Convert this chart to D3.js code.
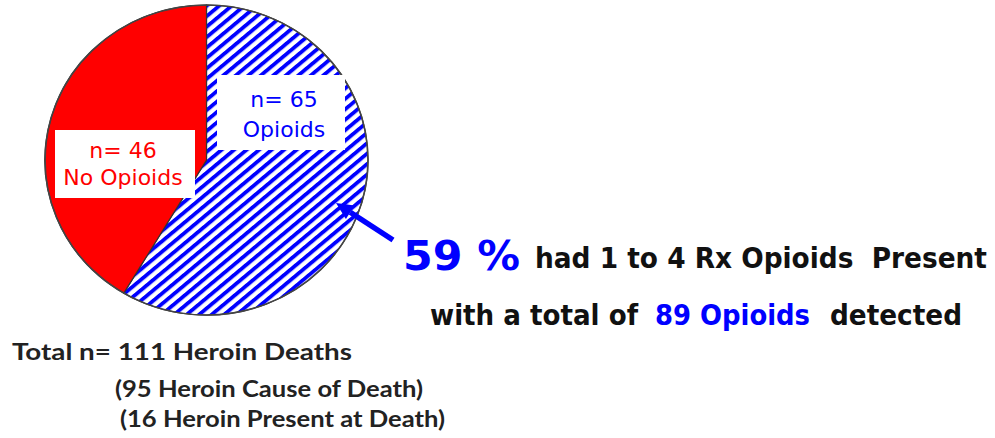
<!DOCTYPE html>
<html>
<head>
<meta charset="utf-8">
<script src="https://cdn.jsdelivr.net/npm/d3@7"></script>
<style>
  body { margin: 0; background: #fff; }
  svg { display: block; }
</style>
</head>
<body>
<svg id="chart"></svg>
<script>
// Data
const categories = ["Opioids", "No Opioids"];
const counts = [65, 46];
const sliceColors = ["#0000ff", "#ff0000"];
const totalLines = [
  "Total n= 111 Heroin Deaths",
  "(95 Heroin Cause of Death)",
  "(16 Heroin Present at Death)",
];
const noteLine1 = "had 1 to 4 Rx Opioids\u00a0 Present";
const noteLine2 = ["with a total of", "89 Opioids", "detected"];

const width = 995;
const height = 438;

const svg = d3.select("#chart").attr("width", width).attr("height", height);

// Hatch pattern for the opioid slice
const defs = svg.append("defs");
const hatch = defs
  .append("pattern")
  .attr("id", "hatch")
  .attr("patternUnits", "userSpaceOnUse")
  .attr("width", 10)
  .attr("height", 8.2)
  .attr("patternTransform", "rotate(-41)");
hatch.append("rect").attr("width", 10).attr("height", 8.2).attr("fill", "#fff");
hatch
  .append("rect")
  .attr("width", 10)
  .attr("height", 3.9)
  .attr("fill", sliceColors[0]);

// Pie
const cx = 206.5;
const cy = 160;
const radius = 161.5;
const yScale = 0.96;

const pie = d3.pie().sort(null).value((d) => d);
const arc = d3.arc().innerRadius(0).outerRadius(radius);
const arcs = pie(counts);

const pieG = svg
  .append("g")
  .attr("transform", `translate(${cx},${cy}) scale(1,${yScale})`);

pieG
  .selectAll("path.slice")
  .data(arcs)
  .enter()
  .append("path")
  .classed("slice", true)
  .attr("d", arc)
  .attr("fill", (_, i) => (i === 0 ? "url(#hatch)" : sliceColors[i]))
  .attr("stroke", "#333")
  .attr("stroke-width", 1.2);

// Outline
pieG
  .append("circle")
  .attr("r", radius)
  .attr("fill", "none")
  .attr("stroke", "#444")
  .attr("stroke-width", 1.6);

// Slice labels (white boxes)
const labelBoxes = [
  { x: 217, y: 75, w: 128, h: 75, tx: 284, lines: ["n= " + counts[0], categories[0]], base: [107, 137] },
  { x: 55, y: 130, w: 140, h: 68, tx: 123, lines: ["n= " + counts[1], categories[1]], base: [158, 185] },
];

labelBoxes.forEach((b, i) => {
  svg
    .append("rect")
    .attr("x", b.x)
    .attr("y", b.y)
    .attr("width", b.w)
    .attr("height", b.h)
    .attr("fill", "#fff");
  b.lines.forEach((t, j) => {
    svg
      .append("text")
      .attr("x", b.tx)
      .attr("y", b.base[j])
      .attr("text-anchor", "middle")
      .style("font-family", "DejaVu Sans, Verdana, sans-serif")
      .style("font-size", "22px")
      .style("fill", sliceColors[i])
      .text(t);
  });
});

// Arrow
const arrowFrom = [393, 240];
const arrowTip = [336, 203];
const ang = Math.atan2(arrowTip[1] - arrowFrom[1], arrowTip[0] - arrowFrom[0]);
const headLen = 17;
const headW = 8;
const baseX = arrowTip[0] - headLen * Math.cos(ang);
const baseY = arrowTip[1] - headLen * Math.sin(ang);
svg
  .append("line")
  .attr("x1", arrowFrom[0])
  .attr("y1", arrowFrom[1])
  .attr("x2", baseX)
  .attr("y2", baseY)
  .attr("stroke", "#0000ff")
  .attr("stroke-width", 5.5);
svg
  .append("path")
  .attr(
    "d",
    d3.line()([
      arrowTip,
      [baseX + headW * Math.sin(ang), baseY - headW * Math.cos(ang)],
      [baseX - headW * Math.sin(ang), baseY + headW * Math.cos(ang)],
    ]) + "Z"
  )
  .attr("fill", "#0000ff");

// Note text
const pct = Math.round((counts[0] / d3.sum(counts)) * 100);
const boldFont = "DejaVu Sans Condensed, DejaVu Sans, sans-serif";

const addText = (x, y, str, size, color, len, family) =>
  svg
    .append("text")
    .attr("x", x)
    .attr("y", y)
    .attr("textLength", len)
    .attr("lengthAdjust", "spacingAndGlyphs")
    .style("font-family", family || boldFont)
    .style("font-weight", "bold")
    .style("font-size", size + "px")
    .style("fill", color)
    .text(str);

addText(403, 270, pct + " %", 41, "#0000ff", 117, "DejaVu Sans, sans-serif");
addText(535, 268, noteLine1, 29, "#111", 452);
addText(430, 325, noteLine2[0], 29, "#111", 208);
addText(655, 325, noteLine2[1], 29, "#0000ff", 155);
addText(830, 325, noteLine2[2], 29, "#111", 132);

// Totals below pie
const totalPos = [
  { x: 12, y: 360, len: 340 },
  { x: 115, y: 397, len: 308 },
  { x: 120, y: 427, len: 325 },
];
totalLines.forEach((t, i) => {
  addText(totalPos[i].x, totalPos[i].y, t, 23, "#222", totalPos[i].len, "Lato, Open Sans, sans-serif");
});
</script>
</body>
</html>
